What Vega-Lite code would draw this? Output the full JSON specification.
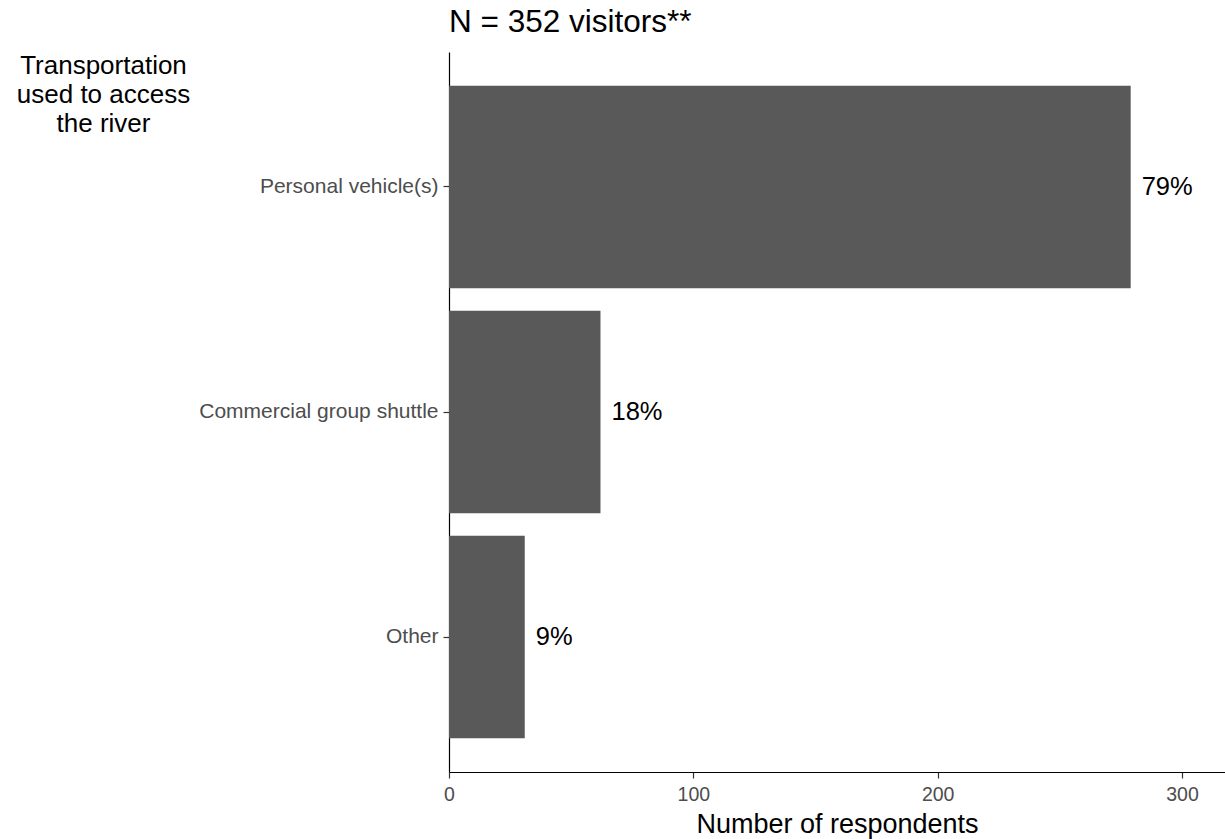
{
  "$schema": "https://vega.github.io/schema/vega-lite/v6.json",
  "width": 776,
  "height": 720,
  "autosize": {"type": "none"},
  "padding": {"left": 449, "top": 52, "right": 0, "bottom": 67},
  "background": "white",
  "title": {
    "text": "N = 352 visitors**",
    "anchor": "start",
    "frame": "group",
    "font": "Liberation Sans",
    "fontSize": 31.5,
    "fontWeight": "normal",
    "color": "black",
    "baseline": "alphabetic",
    "offset": -11
  },
  "data": {
    "values": [
      {"mode": "Personal vehicle(s)", "n": 279, "label": "79%"},
      {"mode": "Commercial group shuttle", "n": 62, "label": "18%"},
      {"mode": "Other", "n": 31, "label": "9%"}
    ]
  },
  "config": {
    "view": {"stroke": null},
    "axis": {"grid": false, "domainColor": "black", "tickColor": "#333333", "domainWidth": 1.2, "tickWidth": 1.2, "labelFont": "Liberation Sans", "titleFont": "Liberation Sans"}
  },
  "encoding": {
    "y": {
      "field": "mode",
      "type": "nominal",
      "sort": ["Personal vehicle(s)", "Commercial group shuttle", "Other"],
      "scale": {"paddingInner": 0.1, "paddingOuter": 0.15},
      "axis": {
        "title": ["Transportation", "used to access", "the river"],
        "titleAngle": 0,
        "titleAlign": "center",
        "titleBaseline": "top",
        "titleX": -346,
        "titleY": 0,
        "titleLineHeight": 29,
        "titleFontSize": 26,
        "titleFontWeight": "normal",
        "titleColor": "black",
        "labelFontSize": 21,
        "labelColor": "#4d4d4d",
        "labelLimit": 0,
        "tickSize": 6,
        "labelPadding": 5
      }
    }
  },
  "layer": [
    {
      "mark": {"type": "bar", "color": "#595959"},
      "encoding": {
        "x": {
          "field": "n",
          "type": "quantitative",
          "scale": {"domain": [0, 317.6], "nice": false},
          "axis": {
            "values": [0, 100, 200, 300],
            "labelFlush": false,
            "title": "Number of respondents",
            "titleFontSize": 27,
            "titleFontWeight": "normal",
            "titleColor": "black",
            "titlePadding": 8,
            "labelFontSize": 19.5,
            "labelColor": "#4d4d4d",
            "tickSize": 6,
            "labelPadding": 7
          }
        }
      }
    },
    {
      "mark": {"type": "text", "align": "left", "baseline": "middle", "dx": 11, "font": "Liberation Sans", "fontSize": 25.5, "color": "black"},
      "encoding": {
        "x": {"field": "n", "type": "quantitative"},
        "text": {"field": "label"}
      }
    }
  ]
}
